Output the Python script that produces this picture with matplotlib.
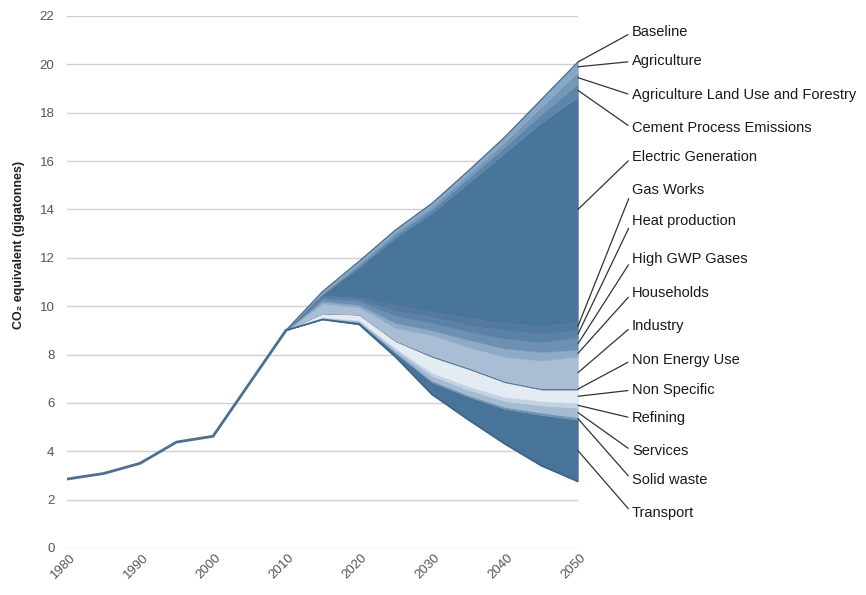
import numpy as np
import matplotlib
matplotlib.use("Agg")
import matplotlib.pyplot as plt
from matplotlib.transforms import ScaledTranslation

plt.rcParams['font.family'] = ['Liberation Sans', 'DejaVu Sans']

# ---------------- data ----------------
hist_years = [1980, 1985, 1990, 1995, 2000, 2010]
hist_values = [2.85, 3.08, 3.5, 4.38, 4.62, 9.0]

proj_years = [2010, 2015, 2020, 2025, 2030, 2035, 2040, 2045, 2050]
remaining = [9.0, 9.45, 9.25, 7.9, 6.35, 5.3, 4.3, 3.4, 2.75]

# reduction wedges, bottom to top
transport       = [0, 0.05, 0.08, 0.15, 0.50, 0.95, 1.45, 2.10, 2.55]
solid_waste     = [0, 0.01, 0.02, 0.05, 0.07, 0.07, 0.08, 0.10, 0.10]
services        = [0, 0.02, 0.05, 0.10, 0.20, 0.22, 0.25, 0.30, 0.40]
refining        = [0, 0.02, 0.03, 0.07, 0.13, 0.15, 0.17, 0.18, 0.20]
non_specific    = [0, 0.15, 0.22, 0.28, 0.65, 0.71, 0.60, 0.47, 0.55]
non_energy_use  = [0, 0.00, 0.00, 0.02, 0.05, 0.05, 0.05, 0.05, 0.05]
industry        = [0, 0.40, 0.30, 0.53, 0.85, 0.85, 1.00, 1.15, 1.30]
households      = [0, 0.10, 0.10, 0.20, 0.20, 0.30, 0.35, 0.35, 0.30]
high_gwp_gases  = [0, 0.10, 0.15, 0.30, 0.30, 0.35, 0.40, 0.40, 0.50]
heat_production = [0, 0.08, 0.08, 0.20, 0.25, 0.25, 0.35, 0.35, 0.30]
gas_works       = [0, 0.07, 0.07, 0.25, 0.20, 0.30, 0.30, 0.30, 0.35]
electric_gen    = [0, 0.03, 1.26, 2.78, 4.11, 5.60, 7.05, 8.45, 9.30]
cement          = [0, 0.04, 0.08, 0.12, 0.15, 0.20, 0.25, 0.35, 0.55]
agri_land_use   = [0, 0.04, 0.08, 0.10, 0.12, 0.15, 0.20, 0.30, 0.50]
agriculture     = [0, 0.04, 0.08, 0.10, 0.12, 0.15, 0.20, 0.30, 0.40]

layer_names = ["Transport", "Solid waste", "Services", "Refining", "Non Specific",
               "Non Energy Use", "Industry", "Households", "High GWP Gases",
               "Heat production", "Gas Works", "Electric Generation",
               "Cement Process Emissions", "Agriculture Land Use and Forestry",
               "Agriculture"]
layers = [transport, solid_waste, services, refining, non_specific, non_energy_use,
          industry, households, high_gwp_gases, heat_production, gas_works,
          electric_gen, cement, agri_land_use, agriculture]
layer_colors = ["#48749a", "#6f93b5", "#a5bbd1", "#c3d3e3", "#e4ebf3",
                "#4d6d8c", "#a9bed4", "#8eaac6", "#6d90b2",
                "#5a82a7", "#53799e", "#49759a",
                "#5e86aa", "#7297b9", "#86a7c6"]

label_order = ["Baseline", "Agriculture", "Agriculture Land Use and Forestry",
               "Cement Process Emissions", "Electric Generation", "Gas Works",
               "Heat production", "High GWP Gases", "Households", "Industry",
               "Non Energy Use", "Non Specific", "Refining", "Services",
               "Solid waste", "Transport"]
# vertical placement of the right-hand labels (layout, in axis units)
label_y = [21.32, 20.12, 18.72, 17.36, 16.16, 14.79, 13.51, 11.94, 10.54,
           9.17, 7.77, 6.53, 5.37, 4.01, 2.81, 1.45]

x_ticks = [1980, 1990, 2000, 2010, 2020, 2030, 2040, 2050]
y_ticks = list(range(0, 23, 2))

# ---------------- figure ----------------
fig = plt.figure(figsize=(8.66, 5.95), dpi=100)
ax = fig.add_axes([67/866, 1-548/595, (578-67)/866, (548-16)/595])
ax.set_xlim(1980, 2050)
ax.set_ylim(0, 22)

for v in y_ticks:
    ax.axhline(v, color="#d0d0d0", lw=1.0, zorder=0)

x = np.array(proj_years, dtype=float)
bottom = np.array(remaining, dtype=float)
tops = {}
for name, vals, col in zip(layer_names, layers, layer_colors):
    top = bottom + np.array(vals, dtype=float)
    ax.fill_between(x, bottom, top, facecolor=col, edgecolor=col, lw=0.3, zorder=2)
    tops[name] = (bottom[-1], top[-1])
    bottom = top

# outline of baseline and remaining emissions
ax.plot(x, bottom, color="#4a6d8e", lw=1.0, zorder=3)
ax.plot(x, remaining, color="#3f6384", lw=1.2, zorder=3)
ax.plot(hist_years, hist_values, color="#4d6f90", lw=2.0, zorder=3,
        solid_joinstyle="round")

# ticks
ax.set_xticks(x_ticks)
ax.set_yticks(y_ticks)
ax.tick_params(length=0, labelsize=9.5, labelcolor="#555555")
ax.tick_params(axis="y", pad=9)
ax.tick_params(axis="x", pad=3)
for lab in ax.get_xticklabels():
    lab.set_rotation(45)
    lab.set_ha("center")
    lab.set_transform(lab.get_transform() + ScaledTranslation(-4/100, 0, fig.dpi_scale_trans))
for s in ax.spines.values():
    s.set_visible(False)

ax.set_ylabel("CO₂ equivalent (gigatonnes)", fontsize=9, fontweight="bold", color="#222222")
ax.yaxis.set_label_coords(-0.082, 0.57)

# right-hand labels with leader lines
text_x = 1980 + (632 - 67) / 7.3
for name, ly in zip(label_order, label_y):
    if name == "Baseline":
        anchor = bottom[-1]
    else:
        lo, hi = tops[name]
        anchor = (lo + hi) / 2
    ax.annotate(name, xy=(2050, anchor), xytext=(text_x, ly),
                textcoords="data", xycoords="data", annotation_clip=False,
                fontsize=10.5, color="#1a1a1a", va="center", ha="left",
                arrowprops=dict(arrowstyle="-", color="#333333", lw=0.9,
                                shrinkA=1, shrinkB=0, relpos=(0, 0.5)))

fig.savefig("out.png", dpi=100)
